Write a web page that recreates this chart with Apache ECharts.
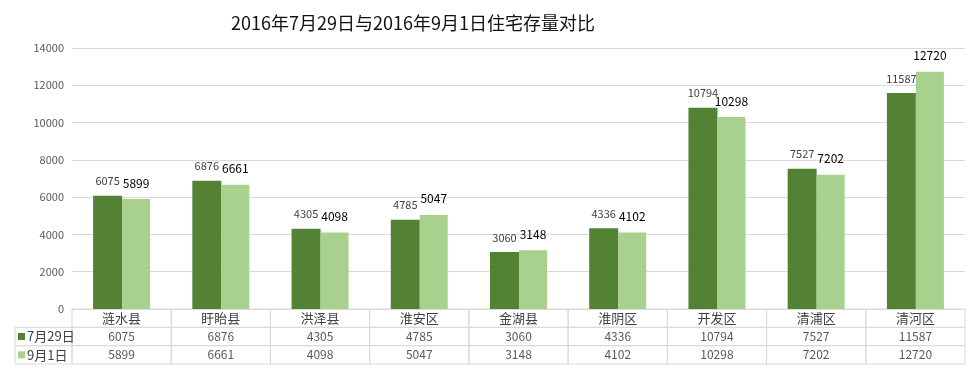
<!DOCTYPE html>
<html><head><meta charset="utf-8">
<script src="https://cdn.jsdelivr.net/npm/echarts@6/dist/echarts.min.js"></script>
<style>html,body{margin:0;padding:0;background:#fff}#c{width:980px;height:376px}</style>
</head><body><div id="c"></div>
<script>
var titleText = '2016年7月29日与2016年9月1日住宅存量对比';
var categories = ['涟水县','盱眙县','洪泽县','淮安区','金湖县','淮阴区','开发区','清浦区','清河区'];
var seriesNames = ['7月29日','9月1日'];
var jul29 = [6075,6876,4305,4785,3060,4336,10794,7527,11587];
var sep1 = [5899,6661,4098,5047,3148,4102,10298,7202,12720];
var yTicks = [0,2000,4000,6000,8000,10000,12000,14000];

var colors = ['#548235','#A9D18E'];
var FONT = '"Noto Sans CJK SC", "Microsoft YaHei", sans-serif';
var borderColor = '#d9d9d9';

var tableData = categories.map(function(c,i){ return [i, c, jul29[i], sep1[i]]; });

function renderCell(params, api){
  var idx = api.value(0);
  var center = api.coord([idx, 0]);
  var w = api.size([1, 0])[0];
  var x0 = center[0] - w/2;
  var yTop = api.coord([idx, 0])[1];
  var y1 = api.coord([idx, 1])[1];
  var y2 = api.coord([idx, 2])[1];
  var y3 = api.coord([idx, 3])[1];
  var ys = [yTop, y1, y2, y3];
  var texts = [categories[idx], String(jul29[idx]), String(sep1[idx])];
  var children = [];
  for (var r=0;r<3;r++){
    children.push({type:'rect', shape:{x:x0, y:ys[r], width:w, height:ys[r+1]-ys[r]},
      style:{fill:'none', stroke:borderColor, lineWidth:1}});
    children.push({type:'text', style:{text:texts[r], x:center[0], y:(ys[r]+ys[r+1])/2,
      align:'center', verticalAlign:'middle', font:(r===0?'13px ':'12px ')+FONT, fill:(r===0?'#404040':'#595959')}});
  }
  if (idx === 0){
    var lx = 15;
    for (var r2=1;r2<3;r2++){
      children.push({type:'rect', shape:{x:lx, y:ys[r2], width:x0-lx, height:ys[r2+1]-ys[r2]},
        style:{fill:'none', stroke:borderColor, lineWidth:1}});
      children.push({type:'rect', shape:{x:lx+3, y:(ys[r2]+ys[r2+1])/2-3.5, width:7, height:7},
        style:{fill:colors[r2-1]}});
      children.push({type:'text', style:{text:seriesNames[r2-1], x:lx+12, y:(ys[r2]+ys[r2+1])/2,
        align:'left', verticalAlign:'middle', font:'13px '+FONT, fill:'#404040'}});
    }
  }
  return {type:'group', children:children};
}

var chart = echarts.init(document.getElementById('c'));
chart.setOption({
  animation:false,
  backgroundColor:'#fff',
  title:{text:titleText, left:408, top:9, textAlign:'center',
    textStyle:{fontFamily:FONT, fontSize:18, fontWeight:'normal', color:'#111'}},
  grid:[
    {left:72, right:15, top:48, bottom:67},
    {left:72, right:15, top:309, height:55}
  ],
  xAxis:[
    {type:'category', gridIndex:0, data:categories, axisLine:{show:false}, axisTick:{show:false}, axisLabel:{show:false}},
    {type:'category', gridIndex:1, data:categories, axisLine:{show:false}, axisTick:{show:false}, axisLabel:{show:false}}
  ],
  yAxis:[
    {type:'value', gridIndex:0, min:yTicks[0], max:yTicks[yTicks.length-1], interval:2000,
      axisLine:{show:false}, axisTick:{show:false},
      axisLabel:{color:'#595959', fontSize:11, fontFamily:FONT, margin:8, formatter:function(v){return String(v);}},
      splitLine:{lineStyle:{color:borderColor}}},
    {type:'value', gridIndex:1, min:0, max:3, inverse:true, show:false, splitLine:{show:false}}
  ],
  series:[
    {name:seriesNames[0], type:'bar', data:jul29, barWidth:29, barGap:'0%',
      itemStyle:{color:colors[0]},
      label:{show:true, position:'top', distance:9, color:'#404040', fontSize:11, fontFamily:FONT}},
    {name:seriesNames[1], type:'bar', data:sep1, barWidth:28, barGap:'0%',
      itemStyle:{color:colors[1]},
      label:{show:true, position:'top', distance:10, color:'#000', fontSize:12, fontFamily:FONT}},
    {type:'custom', xAxisIndex:1, yAxisIndex:1, data:tableData, renderItem:renderCell, silent:true,
      encode:{x:0}}
  ]
});
</script></body></html>
